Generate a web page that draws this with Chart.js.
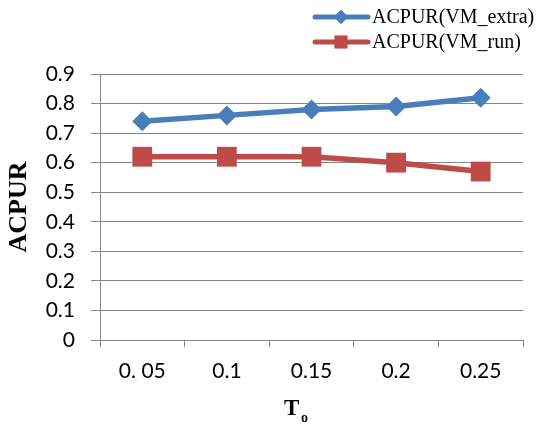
<!DOCTYPE html>
<html>
  <head>
    <meta charset="UTF-8" />
    <title>ACPUR</title>
    <script src="https://cdn.jsdelivr.net/npm/chart.js"></script>
    <style>
      body { margin: 0; background: #fff; }
      #myChart { display: block; }
    </style>
  </head>
  <body>
    <canvas id="myChart" width="547" height="427"></canvas>
    <script>
      // Dados
      const categorias = ['0. 05', '0.1', '0.15', '0.2', '0.25'];
      const vmExtra = [0.74, 0.76, 0.78, 0.79, 0.82];
      const vmRun = [0.62, 0.62, 0.62, 0.60, 0.57];
      const yTickLabels = ['0', '0.1', '0.2', '0.3', '0.4', '0.5', '0.6', '0.7', '0.8', '0.9'];

      const azul = '#4a7ebb';
      const vermelho = '#be4b48';
      const cinza = '#868686';
      const fonteTicks = { family: 'Lato, "Liberation Sans", sans-serif', size: 21 };
      const serif = '"Liberation Serif", "Times New Roman", serif';

      // legenda (linha + marcador) e título do eixo x com subscrito
      const extras = {
        id: 'extras',
        afterDraw(chart) {
          const ctx = chart.ctx;
          ctx.save();
          chart.data.datasets.forEach((ds, i) => {
            const y = 17 + i * 25;
            ctx.strokeStyle = ds.borderColor;
            ctx.lineWidth = 5;
            ctx.lineCap = 'round';
            ctx.beginPath();
            ctx.moveTo(315, y);
            ctx.lineTo(368, y);
            ctx.stroke();
            ctx.fillStyle = ds.borderColor;
            ctx.beginPath();
            Chart.helpers.drawPoint(ctx, {
              pointStyle: ds.pointStyle,
              radius: ds.pointStyle === 'rect' ? 9 : 7,
              rotation: 0,
              borderWidth: 0
            }, 341, y);
            ctx.fill();
            ctx.fillStyle = '#000';
            ctx.font = '20px ' + serif;
            ctx.textBaseline = 'middle';
            ctx.textAlign = 'left';
            ctx.fillText(ds.label, 372, y + 1);
          });

          // T com subscrito o
          ctx.fillStyle = '#000';
          ctx.textBaseline = 'alphabetic';
          ctx.textAlign = 'left';
          ctx.font = 'bold 23px ' + serif;
          ctx.fillText('T', 284, 415);
          ctx.font = 'bold 14px ' + serif;
          ctx.fillText('o', 301, 422);
          ctx.restore();
        }
      };

      const ctx = document.getElementById('myChart').getContext('2d');
      new Chart(ctx, {
        type: 'line',
        data: {
          labels: categorias,
          datasets: [
            {
              label: 'ACPUR(VM_extra)',
              data: vmExtra,
              borderColor: azul,
              backgroundColor: azul,
              borderWidth: 5.5,
              pointStyle: 'rectRot',
              pointRadius: 10,
              pointHoverRadius: 10,
              pointBorderWidth: 0,
              tension: 0
            },
            {
              label: 'ACPUR(VM_run)',
              data: vmRun,
              borderColor: vermelho,
              backgroundColor: vermelho,
              borderWidth: 5.5,
              pointStyle: 'rect',
              pointRadius: 14,
              pointHoverRadius: 14,
              pointBorderWidth: 0,
              tension: 0
            }
          ]
        },
        options: {
          responsive: false,
          animation: false,
          events: [],
          layout: { padding: { top: 74, right: 24, left: 0, bottom: 0 } },
          plugins: {
            legend: { display: false },
            tooltip: { enabled: false }
          },
          scales: {
            x: {
              offset: true,
              grid: {
                offset: true,
                drawOnChartArea: false,
                drawTicks: true,
                tickLength: 7,
                color: cinza
              },
              border: { color: cinza, width: 1 },
              ticks: { color: '#000', font: fonteTicks, padding: 12, maxRotation: 0 },
              afterFit(scale) { scale.height = 87; }
            },
            y: {
              min: 0,
              max: 0.9,
              ticks: {
                stepSize: 0.1,
                color: '#000',
                font: fonteTicks,
                padding: 16,
                callback: (v, i) => yTickLabels[i]
              },
              grid: { color: cinza, tickLength: 9 },
              border: { color: cinza, width: 1 },
              title: {
                display: true,
                text: 'ACPUR',
                color: '#000',
                font: { family: serif, size: 26, weight: 'bold' },
                padding: { top: 4, bottom: 4 }
              },
              afterFit(scale) { scale.width = 100; }
            }
          }
        },
        plugins: [extras]
      });
    </script>
  </body>
</html>
